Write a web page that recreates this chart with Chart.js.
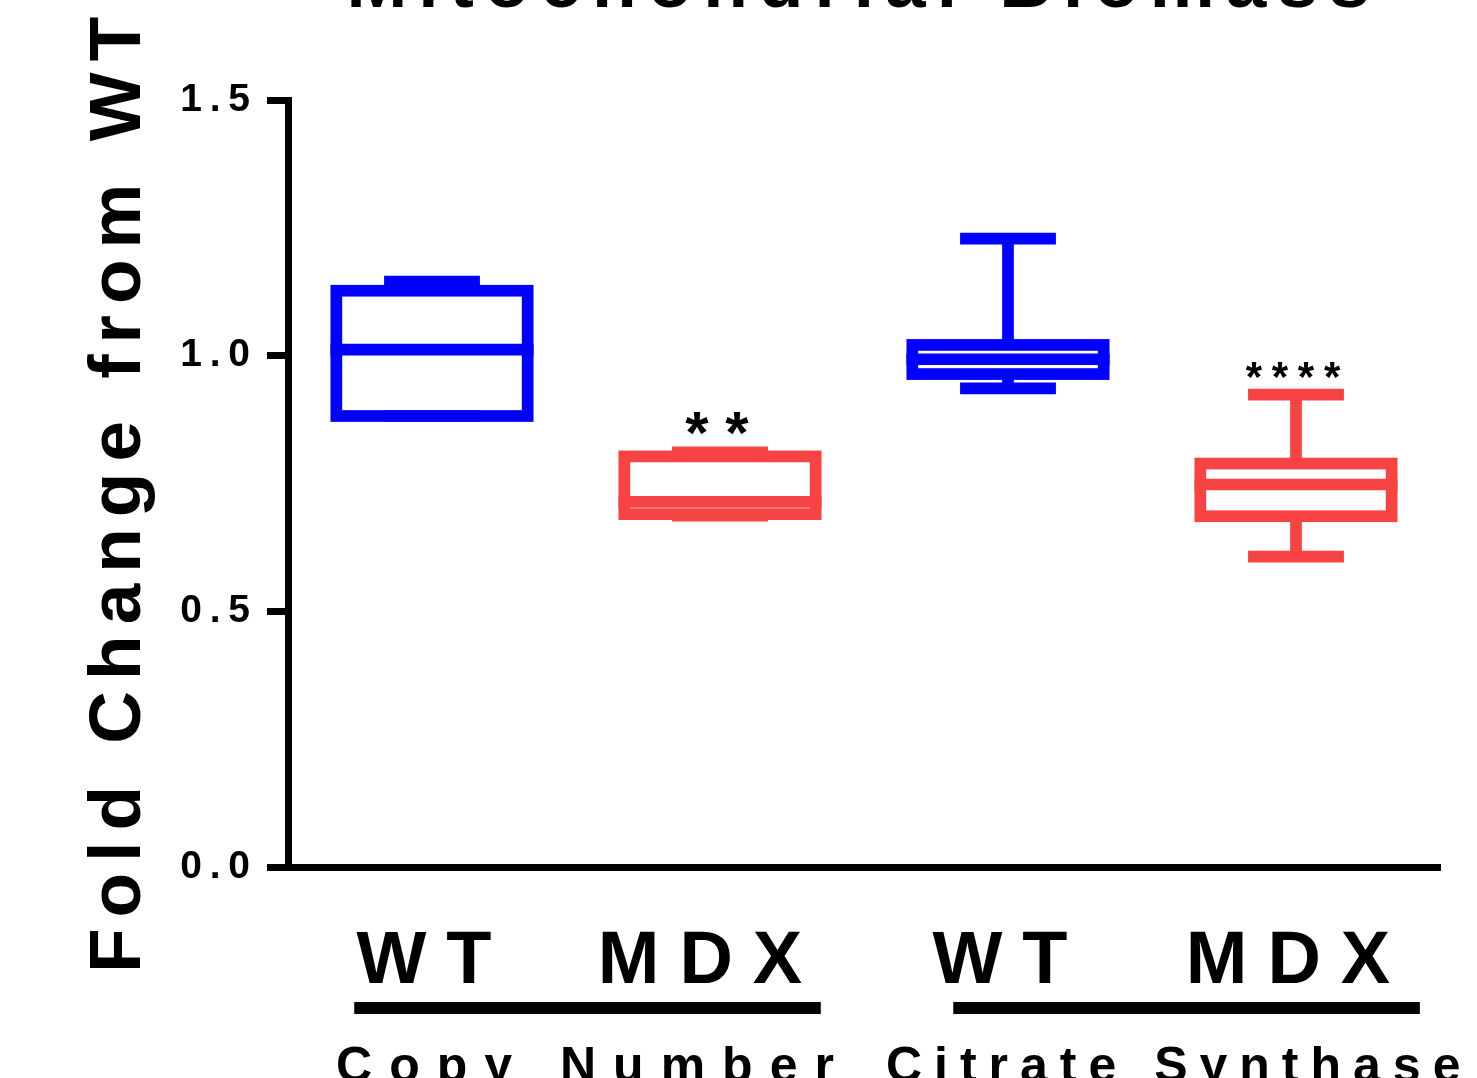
<!DOCTYPE html>
<html>
<head>
<meta charset="utf-8">
<script src="https://cdn.jsdelivr.net/npm/chart.js@4.4.1/dist/chart.umd.min.js"></script>
<style>
    html, body { margin: 0; padding: 0; background: #fff; overflow: hidden; }
    canvas { display: block; }
</style>
</head>
<body>
<canvas id="chart" width="1477" height="1078"></canvas>
<script>
// ── Data ──
const categories = ["WT", "MDX", "WT", "MDX"];
const whiskerMin = [0.882, 0.687, 0.936, 0.607];
const quartile1 = [0.882, 0.690, 0.964, 0.686];
const medians = [1.012, 0.714, 0.993, 0.748];
const quartile3 = [1.127, 0.803, 1.021, 0.789];
const whiskerMax = [1.145, 0.811, 1.229, 0.924];
const significance = ["", "**", "", "****"];
const groupLabels = ["Copy Number", "Citrate Synthase"];
const yTicks = [0, 0.5, 1.0, 1.5];
const chartTitle = "Mitochondrial Biomass";
const yTitle = "Fold Change from WT";

const BLUE = "#0000ff";
const RED = "#f84345";
const boxColors = [BLUE, RED, BLUE, RED];
const FONT = "'Liberation Sans', Arial, Helvetica, sans-serif";
const LINE = 11.7;

// draw text with letter spacing, x is ink-centre (or start if align left)
function spaced(ctx, text, x, y, size, spacing, align) {
    ctx.font = `bold ${size}px ${FONT}`;
    ctx.letterSpacing = spacing + "px";
    ctx.textAlign = "left";
    ctx.textBaseline = "alphabetic";
    const w = ctx.measureText(text).width - spacing;
    const x0 = align === "center" ? x - w / 2 : x;
    ctx.fillText(text, x0, y);
}

const boxPlot = {
    id: "boxPlot",
    afterDatasetsDraw(chart) {
        const { ctx } = chart;
        const y = chart.scales.y;
        const meta = chart.getDatasetMeta(0);
        ctx.save();
        ctx.lineWidth = LINE;
        ctx.lineCap = "butt";
        ctx.lineJoin = "miter";
        meta.data.forEach((bar, i) => {
            const x = bar.x, half = bar.width / 2, cap = bar.width * 0.236;
            const pMin = y.getPixelForValue(whiskerMin[i]);
            const pQ1 = y.getPixelForValue(quartile1[i]);
            const pMed = y.getPixelForValue(medians[i]);
            const pQ3 = y.getPixelForValue(quartile3[i]);
            const pMax = y.getPixelForValue(whiskerMax[i]);
            ctx.strokeStyle = boxColors[i];
            ctx.beginPath();
            // whiskers
            ctx.moveTo(x, pQ3); ctx.lineTo(x, pMax);
            ctx.moveTo(x - cap, pMax); ctx.lineTo(x + cap, pMax);
            ctx.moveTo(x, pQ1); ctx.lineTo(x, pMin);
            ctx.moveTo(x - cap, pMin); ctx.lineTo(x + cap, pMin);
            // median
            ctx.moveTo(x - half, pMed); ctx.lineTo(x + half, pMed);
            ctx.stroke();
            ctx.strokeRect(x - half + LINE / 2, pQ3, bar.width - LINE, pQ1 - pQ3);

            // significance stars
            const s = significance[i];
            if (s) {
                const big = s.length <= 2;
                const size = big ? 60 : 42, sp = big ? 16.7 : 9.7;
                ctx.fillStyle = "#000";
                ctx.font = `bold ${size}px ${FONT}`;
                ctx.letterSpacing = sp + "px";
                const m = ctx.measureText(s);
                const bottom = pMax - LINE / 2 - 11;
                const w = m.width - sp;
                ctx.textAlign = "left";
                ctx.textBaseline = "alphabetic";
                ctx.fillText(s, x - w / 2 - 3, bottom - m.actualBoundingBoxDescent);
            }
        });
        ctx.restore();
    },
    afterDraw(chart) {
        const { ctx } = chart;
        const xs = chart.scales.x;
        const catW = xs.getPixelForValue(1) - xs.getPixelForValue(0);
        ctx.save();
        ctx.fillStyle = "#000";

        // category labels
        const shifts = [-8, -20, -8, -8];
        categories.forEach((c, i) => {
            spaced(ctx, c, xs.getPixelForValue(i) + shifts[i], 983, 74, 20, "center");
        });

        // group bars + labels (positions in category units)
        const spans = [[-0.27, 1.35], [1.81, 3.43]];
        const starts = [-0.333, 1.576];
        const spacing = [17, 12];
        ctx.strokeStyle = "#000";
        ctx.lineWidth = 12;
        groupLabels.forEach((g, i) => {
            const x0 = xs.getPixelForValue(0) + spans[i][0] * catW;
            const x1 = xs.getPixelForValue(0) + spans[i][1] * catW;
            ctx.beginPath();
            ctx.moveTo(x0, 1008);
            ctx.lineTo(x1, 1008);
            ctx.stroke();
            spaced(ctx, g, xs.getPixelForValue(0) + starts[i] * catW, 1082, 50, spacing[i], "left");
        });

        // title (cut off at top like the original)
        spaced(ctx, chartTitle, (chart.chartArea.left + chart.chartArea.right) / 2 - 6, 7, 73, 11, "center");

        // y axis title
        ctx.translate(140, 973);
        ctx.rotate(-Math.PI / 2);
        spaced(ctx, yTitle, 0, 0, 73, 11, "left");
        ctx.restore();
    },
};

const ctx = document.getElementById("chart").getContext("2d");
new Chart(ctx, {
    type: "bar",
    data: {
        labels: categories,
        datasets: [
            {
                data: quartile1.map((q, i) => [q, quartile3[i]]),
                backgroundColor: "rgba(0,0,0,0)",
                borderWidth: 0,
                barPercentage: 0.705,
                categoryPercentage: 1,
            },
        ],
    },
    options: {
        responsive: false,
        animation: false,
        devicePixelRatio: 1,
        layout: { padding: { left: 0, top: 100, right: 37, bottom: 0 } },
        plugins: {
            legend: { display: false },
            tooltip: { enabled: false },
            title: { display: false },
        },
        scales: {
            x: {
                offset: true,
                grid: { display: false },
                ticks: { display: false },
                border: { display: true, color: "#000", width: 7 },
                afterFit: (s) => { s.height = 211; },
            },
            y: {
                min: 0,
                max: 1.5,
                afterBuildTicks: (s) => { s.ticks = yTicks.map((v) => ({ value: v })); },
                grid: {
                    drawOnChartArea: false,
                    drawTicks: true,
                    tickLength: 21,
                    tickWidth: 7,
                    tickColor: "#000",
                },
                border: { display: true, color: "#000", width: 7 },
                ticks: {
                    color: "#000",
                    padding: 17,
                    font: { family: FONT, size: 39, weight: "bold" },
                    callback: (v) => Number(v).toFixed(1).split("").join("\u2009"),
                },
                afterFit: (s) => { s.width = 288; },
            },
        },
    },
    plugins: [boxPlot],
});
</script>
</body>
</html>
